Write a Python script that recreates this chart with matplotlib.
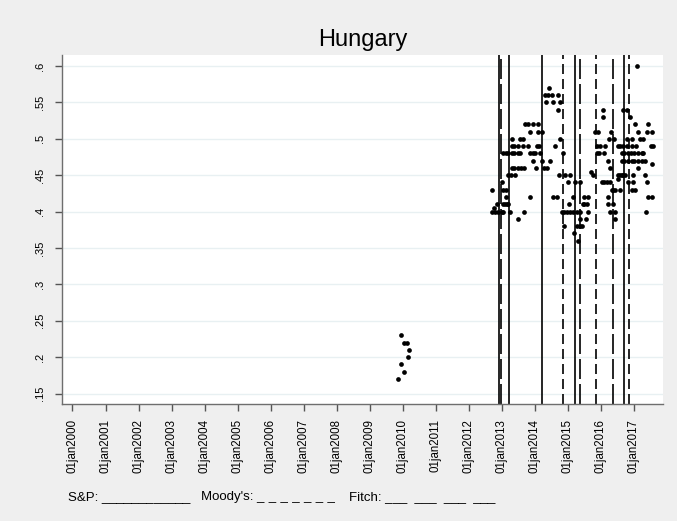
import matplotlib
matplotlib.use('Agg')
import matplotlib.pyplot as plt

plt.rcParams['font.family'] = ['Liberation Sans', 'DejaVu Sans']

# Rating ratio observations, date as decimal year
early_year = [2009.86, 2009.94, 2009.94, 2010.03, 2010.05, 2010.12, 2010.15, 2010.18]
early_ratio = [.17, .19, .23, .18, .22, .22, .20, .21]

obs_year = [
    2017.09,
    2014.44,
    2014.31, 2014.41, 2014.51, 2014.69,
    2014.34, 2014.54, 2014.76,
    2014.71, 2016.05, 2016.68, 2016.78,
    2016.07, 2016.88,
    2013.70, 2013.78, 2013.93, 2014.08, 2017.03, 2017.43,
    2013.85, 2014.10, 2014.21, 2015.82, 2015.92, 2016.30, 2017.13, 2017.38, 2017.54,
    2013.31, 2013.55, 2013.65, 2014.76, 2016.24, 2016.39, 2016.78, 2016.93, 2017.18, 2017.28,
    2013.30, 2013.38, 2013.48, 2013.63, 2013.78, 2014.05, 2014.13, 2014.61, 2015.87, 2015.97,
    2016.12, 2016.51, 2016.58, 2016.68, 2016.78, 2016.93, 2017.06, 2017.52, 2017.57,
    2013.04, 2013.12, 2013.19, 2013.30, 2013.38, 2013.48, 2013.55, 2013.85, 2013.93, 2014.00,
    2014.15, 2014.86, 2015.87, 2015.95, 2016.10, 2016.63, 2016.71, 2016.83, 2016.90, 2017.00,
    2017.13, 2017.23, 2017.28,
    2013.95, 2014.22, 2014.46, 2016.20, 2016.63, 2016.71, 2016.81, 2016.93, 2017.00, 2017.13,
    2017.23, 2017.33,
    2017.54,
    2013.30, 2013.38, 2013.48, 2013.57, 2013.68, 2014.03, 2014.28, 2014.36, 2016.27, 2017.13,
    2015.70,
    2013.19, 2013.27, 2013.40, 2014.73, 2014.91, 2015.06, 2015.77, 2016.52, 2016.58, 2016.63,
    2016.68, 2016.73, 2016.98, 2017.33,
    2016.51,
    2012.99, 2015.01, 2015.21, 2015.36, 2016.02, 2016.10, 2016.17, 2016.27, 2016.83, 2016.98,
    2017.38,
    2012.71, 2013.02, 2013.12, 2016.34, 2016.37, 2016.42, 2016.58, 2016.93, 2017.03,
    2013.12, 2013.85, 2014.56, 2014.66, 2015.14, 2015.49, 2015.60, 2016.22, 2017.43, 2017.54,
    2012.84, 2013.04, 2013.09, 2013.15, 2013.19, 2015.04, 2015.45, 2015.49, 2015.57, 2016.22,
    2016.37,
    2012.77,
    2012.71, 2012.79, 2012.89, 2012.99, 2013.04, 2013.25, 2013.68, 2014.81, 2014.89, 2014.96,
    2015.06, 2015.16, 2015.26, 2015.36, 2015.62, 2016.27, 2016.42, 2017.36,
    2013.50, 2015.36, 2015.55, 2016.42,
    2014.89, 2015.26, 2015.36, 2015.42,
    2015.18,
    2015.31,
]
obs_ratio = [
    .60,
    .57,
    .56, .56, .56, .56,
    .55, .55, .55,
    .54, .54, .54, .54,
    .53, .53,
    .52, .52, .52, .52, .52, .52,
    .51, .51, .51, .51, .51, .51, .51, .51, .51,
    .50, .50, .50, .50, .50, .50, .50, .50, .50, .50,
    .49, .49, .49, .49, .49, .49, .49, .49, .49, .49,
    .49, .49, .49, .49, .49, .49, .49, .49, .49,
    .48, .48, .48, .48, .48, .48, .48, .48, .48, .48,
    .48, .48, .48, .48, .48, .48, .48, .48, .48, .48,
    .48, .48, .48,
    .47, .47, .47, .47, .47, .47, .47, .47, .47, .47,
    .47, .47,
    .465,
    .46, .46, .46, .46, .46, .46, .46, .46, .46, .46,
    .455,
    .45, .45, .45, .45, .45, .45, .45, .45, .45, .45,
    .45, .45, .45, .45,
    .445,
    .44, .44, .44, .44, .44, .44, .44, .44, .44, .44,
    .44,
    .43, .43, .43, .43, .43, .43, .43, .43, .43,
    .42, .42, .42, .42, .42, .42, .42, .42, .42, .42,
    .41, .41, .41, .41, .41, .41, .41, .41, .41, .41,
    .41,
    .405,
    .40, .40, .40, .40, .40, .40, .40, .40, .40, .40,
    .40, .40, .40, .40, .40, .40, .40, .40,
    .39, .39, .39, .39,
    .38, .38, .38, .38,
    .37,
    .36,
]

# Rating action dates per agency
sp_dates = [2012.91, 2013.21, 2014.22, 2015.20, 2016.70]
moodys_dates = [2014.84, 2015.85, 2016.84]
fitch_dates = [2012.97, 2015.36, 2016.37]

year_ticks = list(range(2000, 2018))
year_labels = ['01jan%d' % y for y in year_ticks]
ratio_ticks = [.15, .2, .25, .3, .35, .4, .45, .5, .55, .6]
ratio_labels = ['.15', '.2', '.25', '.3', '.35', '.4', '.45', '.5', '.55', '.6']

fig = plt.figure(figsize=(6.77, 5.21), dpi=100, facecolor='#efefef')
ax = fig.add_axes([0.0911, 0.2246, 0.8882, 0.6698])
ax.set_facecolor('white')

for yt in ratio_ticks:
    ax.axhline(yt, color='#e8f0f2', lw=1, zorder=0)

for d in sp_dates:
    ax.axvline(d, color='black', lw=1.2, ls='-', zorder=1)
for d in moodys_dates:
    ax.axvline(d, color='black', lw=1.2, ls=(0, (6, 3)), zorder=1)
for d in fitch_dates:
    ax.axvline(d, color='black', lw=1.2, ls=(0, (12, 3)), zorder=1)

ax.plot(early_year, early_ratio, 'o', color='black', ms=3.4, mew=0, zorder=3)
ax.plot(obs_year, obs_ratio, 'o', color='black', ms=3.4, mew=0, zorder=3)

ax.set_xlim(1999.673, 2017.878)
ax.set_ylim(0.1357, 0.6151)

ax.set_xticks(year_ticks)
ax.set_xticklabels(year_labels, rotation=90, va='top', ha='center')
ax.set_yticks(ratio_ticks)
ax.set_yticklabels(ratio_labels, rotation=90, va='center')
ax.tick_params(axis='x', length=4.7, width=1, color='#555555', pad=6, labelsize=8.3)
ax.tick_params(axis='y', length=4.7, width=1, color='#555555', pad=7, labelsize=8)

for side in ['top', 'right']:
    ax.spines[side].set_visible(False)
for side in ['left', 'bottom']:
    ax.spines[side].set_color('#6e6e6e')
    ax.spines[side].set_linewidth(1)

fig.text(0.5353, 1 - 40 / 521, 'Hungary', ha='center', va='center', fontsize=17)

# line-style key for the three agencies
note_y = 1 - 497 / 521
fig.text(67.8 / 677, note_y, 'S&P: ____________', ha='left', va='center', fontsize=9.5)
fig.text(201 / 677, note_y, "Moody's: " + '\u2004'.join(['_'] * 7),
         ha='left', va='center', fontsize=9.5)
fig.text(349 / 677, note_y, 'Fitch: ___  ___  ___  ___', ha='left', va='center', fontsize=9.5)

fig.savefig('out.png', dpi=100, facecolor=fig.get_facecolor())
